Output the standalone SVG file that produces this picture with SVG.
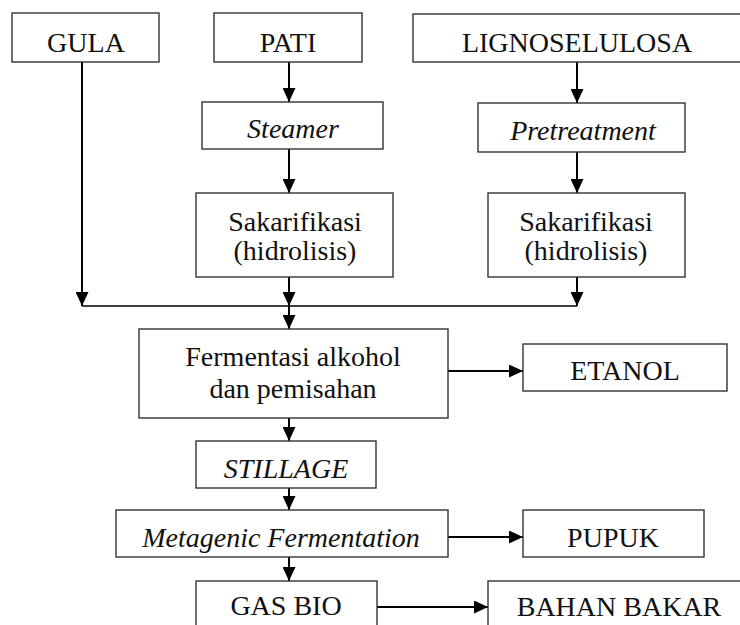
<svg xmlns="http://www.w3.org/2000/svg" width="740" height="625" viewBox="0 0 740 625">
<style>
.box{fill:#fff;stroke:#333;stroke-width:1.4}
.t{font-family:"Liberation Serif","Times New Roman",serif;font-size:28px;fill:#111;text-anchor:middle}
.i{font-style:italic}
.c{stroke:#000;stroke-width:2;fill:none}
.h{stroke:#000;stroke-width:1.5;fill:none}
</style>
<defs>
<marker id="ah" markerUnits="userSpaceOnUse" markerWidth="14" markerHeight="13" refX="14" refY="6.5" orient="auto">
<path d="M0,0 L14,6.5 L0,13 z" fill="#000"/>
</marker>
</defs>
<rect width="740" height="625" fill="#fff"/>
<g id="connectors">
<path class="h" d="M82,306 H577"/>
<path class="c" d="M82,62 V306" marker-end="url(#ah)"/>
<path class="c" d="M289,62 V102" marker-end="url(#ah)"/>
<path class="c" d="M289,149 V193" marker-end="url(#ah)"/>
<path class="c" d="M289,277 V306" marker-end="url(#ah)"/>
<path class="c" d="M577,62 V103" marker-end="url(#ah)"/>
<path class="c" d="M577,152 V193" marker-end="url(#ah)"/>
<path class="c" d="M577,277 V306" marker-end="url(#ah)"/>
<path class="c" d="M289,306 V329" marker-end="url(#ah)"/>
<path class="c" d="M289,418 V441" marker-end="url(#ah)"/>
<path class="c" d="M289,488 V510" marker-end="url(#ah)"/>
<path class="c" d="M289,557 V581" marker-end="url(#ah)"/>
<path class="c" d="M448,371 H523" marker-end="url(#ah)"/>
<path class="c" d="M448,537 H523" marker-end="url(#ah)"/>
<path class="c" d="M377,607 H488" marker-end="url(#ah)"/>
</g>
<g id="gula"><rect class="box" x="12" y="13" width="147" height="49"/><text class="t" x="86" y="52">GULA</text></g>
<g id="pati"><rect class="box" x="214" y="13" width="148" height="49"/><text class="t" x="288" y="52">PATI</text></g>
<g id="lignoselulosa"><rect class="box" x="413" y="14" width="340" height="48"/><text class="t" x="577" y="52">LIGNOSELULOSA</text></g>
<g id="steamer"><rect class="box" x="202" y="102" width="181" height="47"/><text class="t i" x="293" y="138">Steamer</text></g>
<g id="pretreatment"><rect class="box" x="478" y="103" width="207" height="49"/><text class="t i" x="583" y="140">Pretreatment</text></g>
<g id="sakarifikasi1"><rect class="box" x="196" y="193" width="197" height="84"/><text class="t" x="295" y="231">Sakarifikasi</text><text class="t" x="295" y="260">(hidrolisis)</text></g>
<g id="sakarifikasi2"><rect class="box" x="488" y="193" width="197" height="84"/><text class="t" x="586" y="231">Sakarifikasi</text><text class="t" x="586" y="260">(hidrolisis)</text></g>
<g id="fermentasi"><rect class="box" x="139" y="329" width="309" height="89"/><text class="t" x="293" y="366">Fermentasi alkohol</text><text class="t" x="293" y="398">dan pemisahan</text></g>
<g id="etanol"><rect class="box" x="523" y="344" width="204" height="47"/><text class="t" x="625" y="380">ETANOL</text></g>
<g id="stillage"><rect class="box" x="196" y="441" width="180" height="47"/><text class="t i" x="286" y="478">STILLAGE</text></g>
<g id="metagenic"><rect class="box" x="116" y="510" width="332" height="47"/><text class="t i" x="281" y="547">Metagenic Fermentation</text></g>
<g id="pupuk"><rect class="box" x="523" y="510" width="181" height="47"/><text class="t" x="613" y="547">PUPUK</text></g>
<g id="gasbio"><rect class="box" x="196" y="581" width="181" height="60"/><text class="t" x="286" y="615">GAS BIO</text></g>
<g id="bahanbakar"><rect class="box" x="488" y="581" width="270" height="60"/><text class="t" x="619" y="616">BAHAN BAKAR</text></g>
</svg>
